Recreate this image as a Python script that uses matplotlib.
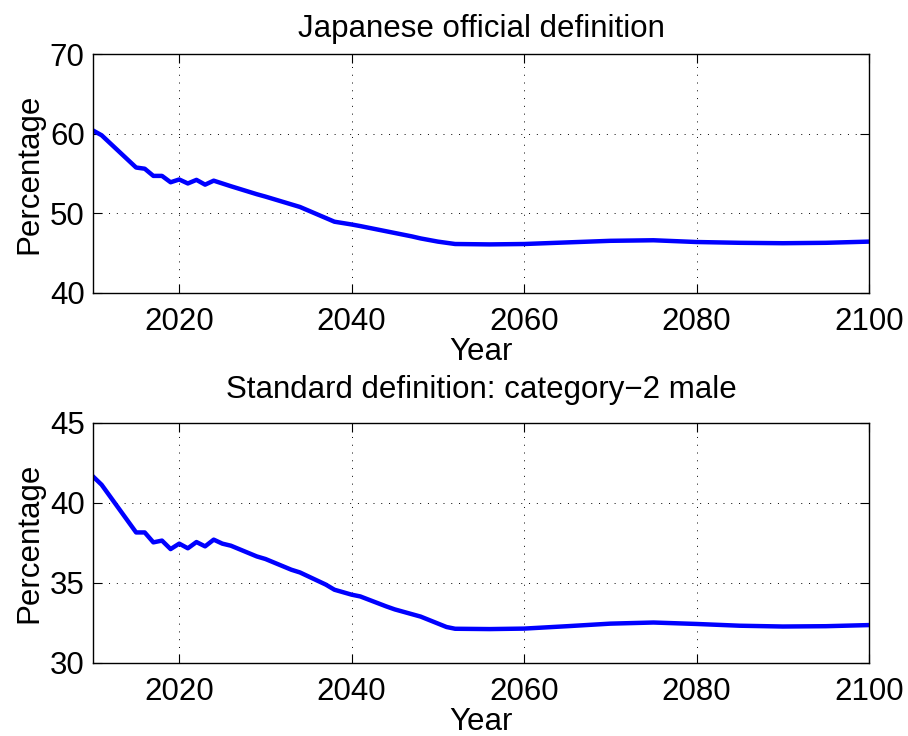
import matplotlib
matplotlib.use("Agg")
import matplotlib.pyplot as plt

plt.rcParams['font.family'] = ['Liberation Sans', 'DejaVu Sans']

# Share of population (percentage) by projection year
years_official = [2010, 2011, 2015, 2016, 2017, 2018, 2019, 2020, 2021, 2022, 2023,
                  2024, 2026, 2029, 2030, 2034, 2038, 2040, 2041, 2044, 2047, 2048,
                  2050, 2052, 2056, 2060, 2065, 2070, 2075, 2080, 2085, 2090, 2095, 2100]
pct_official = [60.4, 59.8, 55.75, 55.6, 54.7, 54.7, 53.9, 54.25, 53.75, 54.2, 53.6,
                54.1, 53.4, 52.4, 52.1, 50.8, 48.95, 48.6, 48.4, 47.75, 47.1, 46.85,
                46.45, 46.15, 46.1, 46.15, 46.35, 46.55, 46.62, 46.4, 46.3, 46.25, 46.3, 46.45]

years_standard = [2010, 2011, 2015, 2016, 2017, 2018, 2019, 2020, 2021, 2022, 2023,
                  2024, 2025, 2026, 2029, 2030, 2033, 2034, 2037, 2038, 2040, 2041,
                  2044, 2045, 2048, 2051, 2052, 2056, 2060, 2065, 2070, 2075, 2080,
                  2085, 2090, 2095, 2100]
pct_standard = [41.66, 41.14, 38.16, 38.16, 37.54, 37.65, 37.12, 37.46, 37.17, 37.56, 37.29,
                37.71, 37.46, 37.33, 36.66, 36.5, 35.83, 35.66, 34.9, 34.58, 34.27, 34.16,
                33.54, 33.35, 32.9, 32.25, 32.14, 32.12, 32.15, 32.3, 32.46, 32.53, 32.44,
                32.33, 32.28, 32.3, 32.37]

titles = ["Japanese official definition", "Standard definition: category\u22122 male"]
x_ticks = [2020, 2040, 2060, 2080, 2100]
y_ranges = [(40, 70), (30, 45)]
y_ticks = [[40, 50, 60, 70], [30, 35, 40, 45]]

W, H = 908, 736
fig = plt.figure(figsize=(W / 100, H / 100), dpi=100)

boxes = [(93, 54, 869, 293), (93, 423, 869, 663)]
title_pads = [12, 18]
series = [(years_official, pct_official), (years_standard, pct_standard)]

FS = 22.5
for i, ((l, t, r, b), (xs, ys)) in enumerate(zip(boxes, series)):
    ax = fig.add_axes([l / W, 1 - b / H, (r - l) / W, (b - t) / H])
    ax.plot(xs, ys, color=(0, 0, 1), lw=3.2, solid_joinstyle='round')
    ax.set_xlim(2010, 2100)
    ax.set_ylim(*y_ranges[i])
    ax.set_xticks(x_ticks)
    ax.set_yticks(y_ticks[i])
    ax.grid(True, color='black', linestyle=(0, (1, 7)), linewidth=0.7)
    ax.tick_params(direction='in', length=6.5, width=0.8, top=True, right=True,
                   labelsize=FS)
    ax.tick_params(axis='x', pad=10)
    ax.tick_params(axis='y', pad=6)
    for s in ax.spines.values():
        s.set_linewidth(1.0)
    ax.set_xlabel("Year", fontsize=FS, labelpad=0)
    ax.set_ylabel("Percentage", fontsize=FS, labelpad=4)
    ax.set_title(titles[i], fontsize=FS, pad=title_pads[i])

fig.savefig("out.png", dpi=100, facecolor='white')
